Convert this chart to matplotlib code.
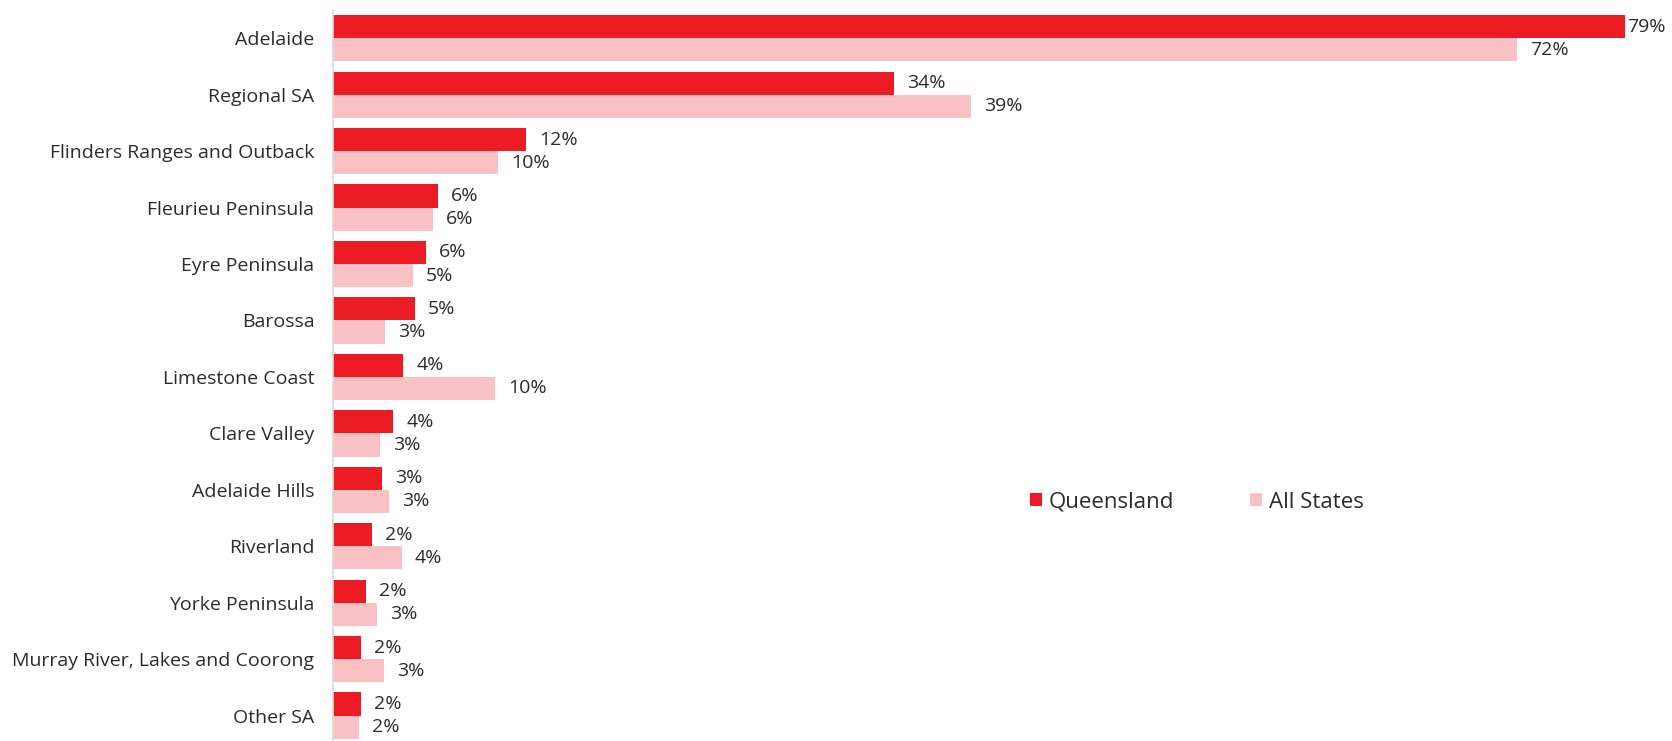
# ==========================================
# SA REGIONS VISITED - QUEENSLAND VS ALL STATES
# ==========================================

import matplotlib.pyplot as plt
import numpy as np


# ==========================================
# DADOS
# ==========================================

regioes = [
    "Adelaide",
    "Regional SA",
    "Flinders Ranges and Outback",
    "Fleurieu Peninsula",
    "Eyre Peninsula",
    "Barossa",
    "Limestone Coast",
    "Clare Valley",
    "Adelaide Hills",
    "Riverland",
    "Yorke Peninsula",
    "Murray River, Lakes and Coorong",
    "Other SA",
]

queensland = [
    0.790, 0.343, 0.118, 0.064, 0.057, 0.050, 0.043,
    0.037, 0.030, 0.024, 0.020, 0.017, 0.017,
]

todos_estados = [
    0.724, 0.390, 0.101, 0.061, 0.049, 0.032, 0.099,
    0.029, 0.034, 0.042, 0.027, 0.031, 0.016,
]

series = ["Queensland", "All States"]


# ==========================================
# ESTILO
# ==========================================

plt.rcParams["font.family"] = ["Open Sans", "DejaVu Sans"]

cor_texto = "#2B2B2B"
cor_qld = "#ED1C24"
cor_todos = "#F9C1C4"


# ==========================================
# GRÁFICO
# ==========================================

fig = plt.figure(figsize=(16.72, 7.41), dpi=100)

# eixo posicionado em pixels: esquerda 333, topo 10, base 741
ax = fig.add_axes([333 / 1672, 0, 1308 / 1672, 731 / 741])

y = np.arange(len(regioes))
altura = 0.41

barras_q = ax.barh(y - altura / 2, queensland, height=altura,
                   color=cor_qld, label=series[0])
barras_t = ax.barh(y + altura / 2, todos_estados, height=altura,
                   color=cor_todos, label=series[1])

ax.set_xlim(0, 0.80)
ax.set_ylim(len(regioes) - 0.55, -0.5)

ax.set_yticks(y)
ax.set_yticklabels(regioes, fontsize=14, color=cor_texto)
ax.tick_params(axis="y", length=0, pad=13.5)
ax.set_xticks([])

for lado in ["top", "right", "bottom"]:
    ax.spines[lado].set_visible(False)
ax.spines["left"].set_color("#D9D9D9")
ax.spines["left"].set_linewidth(1.2)

# rótulos de valor no fim de cada barra
maior = max(queensland + todos_estados)
for barras, valores in [(barras_q, queensland), (barras_t, todos_estados)]:
    for barra, v in zip(barras, valores):
        pad = 2 if v == maior else 13
        ax.annotate(
            f"{v * 100:.0f}%",
            xy=(v, barra.get_y() + barra.get_height() / 2),
            xytext=(pad * 0.72, 0),
            textcoords="offset points",
            va="center",
            ha="left",
            fontsize=14,
            color=cor_texto,
            annotation_clip=False,
        )

# legenda
fig.legend(
    loc="center left",
    bbox_to_anchor=(1019 / 1672, 1 - 502 / 741),
    ncol=2,
    frameon=False,
    fontsize=16,
    handlelength=0.55,
    handleheight=0.55,
    handletextpad=0.3,
    columnspacing=3.4,
    borderpad=0,
    labelcolor=cor_texto,
)

fig.savefig("out.png", dpi=100)
